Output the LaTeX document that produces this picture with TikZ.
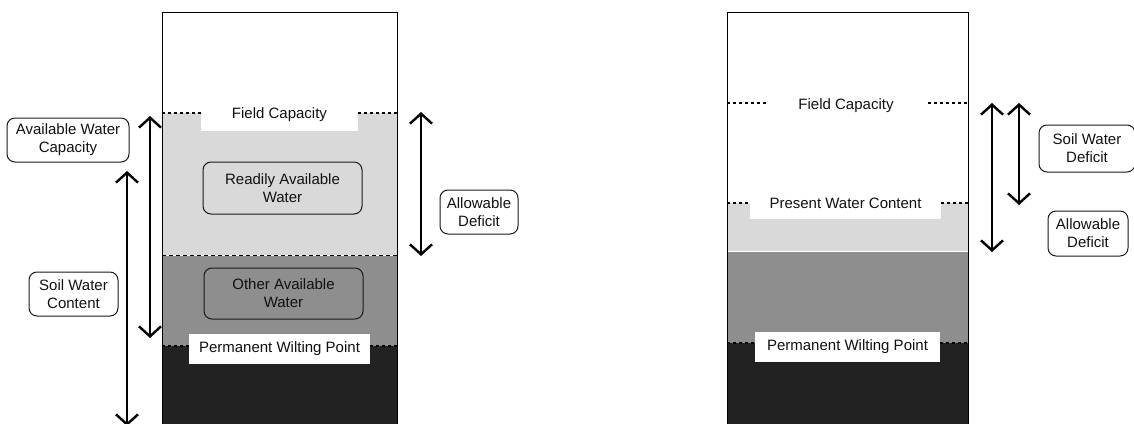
\documentclass[tikz,border=0pt]{standalone}
\usepackage{fontspec}
\setmainfont{Liberation Sans}
\usetikzlibrary{arrows.meta}
\definecolor{lgray}{HTML}{D9D9D9}
\definecolor{mgray}{HTML}{8E8E8E}
\definecolor{dgray}{HTML}{222222}
\definecolor{txt}{HTML}{111111}
\tikzset{
  lbl/.style={font=\fontsize{15}{18}\selectfont, text=txt, align=center, inner sep=0pt},
  rbox/.style={lbl, draw=black!90, line width=1pt, rounded corners=8pt},
  wbox/.style={fill=white, draw=none},
  dbl/.style={line width=2.4pt, {Straight Barb[length=10pt,width=22pt]}-{Straight Barb[length=10pt,width=22pt]}},
  dotl/.style={line width=1.2pt, dash pattern=on 3pt off 3pt},
}
\begin{document}
\begin{tikzpicture}[x=1pt,y=-1pt]
\useasboundingbox (0,0) rectangle (1134,423);
\begin{scope}
\clip (0,0) rectangle (1134,423);
% ---------- left column ----------
\fill[white] (162,12) rectangle (397,113);
\fill[lgray] (162,113) rectangle (397,255);
\fill[mgray] (162,255) rectangle (397,346);
\fill[dgray] (162,346) rectangle (397,424);
\draw[white, line width=0.8pt] (162,255) -- (397,255);
\draw[black, line width=0.8pt, dash pattern=on 4pt off 3pt] (162,255) -- (397,255);
\draw[dotl] (162,113) -- (201,113);
\draw[dotl] (358,113) -- (397,113);
\draw[dotl] (162,346) -- (189,346);
\draw[dotl] (370,346) -- (397,346);
\fill[wbox] (201,98) rectangle (358,131);
\fill[wbox] (189,334) rectangle (370,364);
\draw[black, line width=1pt] (162,424) -- (162,12) -- (397,12) -- (397,424);
\node[lbl] (fcL) at (279.5,115) {Field Capacity};
\node[lbl] (pwpL) at (279.5,348.5) {Permanent Wilting Point};
\node[rbox, minimum width=159pt, minimum height=52pt] (raw) at (282.5,188) {Readily Available\\Water};
\node[rbox, minimum width=159pt, minimum height=51pt] (oaw) at (283.5,293.5) {Other Available\\Water};
% left labels and arrows
\node[rbox, minimum width=122pt, minimum height=44pt] (awc) at (68,140) {Available Water\\Capacity};
\node[rbox, minimum width=89pt, minimum height=44pt] (swc) at (73.5,294) {Soil Water\\Content};
\node[rbox, minimum width=78pt, minimum height=44pt] (adL) at (479,212) {Allowable\\Deficit};
\coordinate (awcT) at (150,116);
\coordinate (awcB) at (150,338);
\coordinate (swcT) at (127,171);
\coordinate (swcB) at (127,426);
\coordinate (adLT) at (421,112);
\coordinate (adLB) at (421,256);
\draw[dbl] (awcT) -- (awcB);
\draw[dbl] (swcT) -- (swcB);
\draw[dbl] (adLT) -- (adLB);
% ---------- right column ----------
\fill[white] (727,12) rectangle (968,203);
\fill[lgray] (727,203) rectangle (968,251);
\fill[mgray] (727,251) rectangle (968,343);
\fill[dgray] (727,343) rectangle (968,424);
\draw[white, line width=1pt] (727,251) -- (968,251);
\draw[dotl] (727,103) -- (767,103);
\draw[dotl] (928,103) -- (968,103);
\draw[dotl] (727,203) -- (750,203);
\draw[dotl] (941,203) -- (968,203);
\draw[dotl] (727,343) -- (755,343);
\draw[dotl] (940,343) -- (968,343);
\fill[wbox] (750,190) rectangle (941,219);
\fill[wbox] (755,332) rectangle (940,362);
\draw[black, line width=1pt] (727,424) -- (727,12) -- (968,12) -- (968,424);
\node[lbl] (fcR) at (846,106) {Field Capacity};
\node[lbl] (pwc) at (845.5,203.5) {Present Water Content};
\node[lbl] (pwpR) at (847.5,346.5) {Permanent Wilting Point};
\node[rbox, minimum width=96pt, minimum height=47pt] (swd) at (1087,148.5) {Soil Water\\Deficit};
\node[rbox, minimum width=80pt, minimum height=45pt] (adR) at (1088,233.5) {Allowable\\Deficit};
\coordinate (a1T) at (992,103);
\coordinate (a1B) at (992,252);
\coordinate (a2T) at (1019,103);
\coordinate (a2B) at (1019,205);
\draw[dbl] (a1T) -- (a1B);
\draw[dbl] (a2T) -- (a2B);
\end{scope}
\end{tikzpicture}
\end{document}
